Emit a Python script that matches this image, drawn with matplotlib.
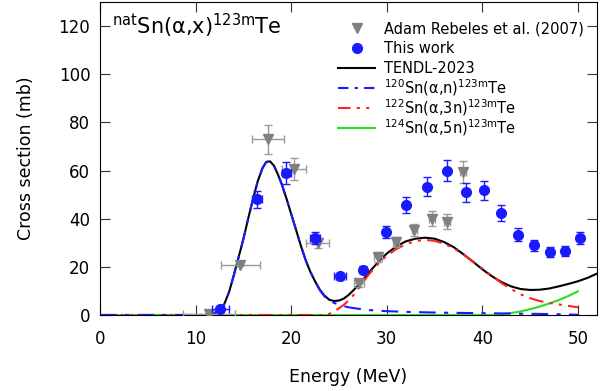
import numpy as np
import matplotlib
matplotlib.use("Agg")
import matplotlib.pyplot as plt
from matplotlib.lines import Line2D

plt.rcParams['font.family'] = ['DejaVu Sans']
plt.rcParams['mathtext.fontset'] = 'dejavusans'

# --- data ---
# this work
e_tw = [12.6, 16.4, 19.5, 22.5, 25.1, 27.5, 29.9, 32.0, 34.2, 36.3, 38.3, 40.2,
        42.0, 43.7, 45.4, 47.1, 48.7, 50.2]
s_tw = [2.6, 48.0, 59.0, 32.0, 16.0, 18.8, 34.3, 45.7, 53.3, 60.0, 51.0, 51.8,
        42.4, 33.4, 29.0, 26.2, 26.5, 31.8]
ds_tw = [1.0, 3.5, 4.4, 2.5, 1.5, 1.5, 2.5, 3.5, 4.0, 4.5, 4.0, 4.0,
         3.3, 2.7, 2.3, 2.0, 2.0, 2.5]
de_tw = [0.9, 0.5, 0.5, 0.5, 0.6, 0, 0, 0, 0, 0, 0, 0,
         0, 0, 0, 0, 0, 0]

# Adam Rebeles et al. (2007)
e_ar = [11.4, 14.7, 17.6, 20.3, 22.8, 27.1, 29.1, 31.0, 32.9, 34.7, 36.3, 38.0]
s_ar = [0.6, 20.7, 73.0, 60.5, 29.8, 13.2, 24.0, 30.3, 35.3, 40.0, 38.8, 59.3]
ds_ar = [0.3, 0.5, 6.0, 4.6, 2.0, 1.5, 2.0, 2.2, 2.5, 3.0, 3.0, 4.5]
de_ar = [2.7, 2.0, 1.7, 1.3, 1.2, 0.5, 0.4, 0.3, 0.3, 0.3, 0.3, 0.3]

# TENDL-2023 natSn total
e_tendl = [0, 11, 11.6, 12, 12.5, 13, 13.5, 14, 14.5, 15, 15.5, 16, 16.5, 17, 17.4,
           17.8, 18.2, 18.6, 19, 19.5, 20, 20.5, 21, 21.5, 22, 22.5, 23, 23.5, 24,
           24.5, 25, 25.5, 26, 26.5, 27, 27.5, 28, 28.5, 29, 29.5, 30, 31, 32, 33,
           34, 35, 36, 37, 38, 39, 40, 41, 42, 43, 44, 45, 46, 47, 48, 49, 50, 51, 52]
s_tendl = [0, 0, 0, 0.8, 2.2, 4.5, 9.5, 16.5, 24, 31.5, 40, 48, 55.5, 61, 63.6,
           63.8, 62, 58.5, 54.5, 48.5, 42, 35.5, 29, 23, 18, 14, 10.5, 8, 6.3,
           5.8, 6.0, 6.8, 8.3, 10.2, 12.3, 14.6, 17, 19.3, 21.5, 23.6, 25.5, 28.5, 30.6, 31.7,
           32.1, 31.7, 30.3, 28.2, 25.3, 22.2, 19, 16.1, 13.7, 11.9, 10.8, 10.4, 10.5, 11.0,
           11.9, 12.9, 14.0, 15.4, 17.2]

# 120Sn(a,n)
e_an = [0, 11, 11.6, 12, 12.5, 13, 13.5, 14, 14.5, 15, 15.5, 16, 16.5, 17, 17.4,
        17.8, 18.2, 18.6, 19, 19.5, 20, 20.5, 21, 21.5, 22, 22.5, 23, 23.5, 24,
        24.5, 25, 25.5, 26, 27, 28, 29, 30, 32, 34, 36, 38, 40, 42, 44, 46, 48, 50]
s_an = [0, 0, 0, 0.8, 2.2, 4.5, 9.5, 16.5, 24, 31.5, 40, 48, 55.5, 61, 63.6,
        63.8, 62, 58.5, 54.5, 48.5, 42, 35.5, 29, 23, 18, 14, 10.3, 7.7, 5.9,
        5.0, 4.3, 3.7, 3.2, 2.6, 2.1, 1.8, 1.6, 1.3, 1.1, 0.95, 0.85, 0.75, 0.65,
        0.55, 0.45, 0.3, 0.1]

# 122Sn(a,3n)
e_a3n = [0, 23.5, 24, 24.5, 25, 25.5, 26, 26.5, 27, 27.5, 28, 28.5, 29, 29.5, 30,
         31, 32, 33, 34, 35, 36, 37, 38, 39, 40, 41, 42, 43, 44, 45, 46, 47, 48, 49, 50]
s_a3n = [0, 0, 0.5, 1.5, 2.8, 4.2, 6, 8.2, 10.8, 13.5, 16.2, 18.6, 20.8, 22.8, 24.6,
         27.4, 29.4, 30.7, 31.2, 30.8, 29.6, 27.7, 25.2, 22.3, 19.3, 16.2, 13.3, 10.8,
         8.6, 7.0, 5.8, 5.0, 4.4, 3.8, 3.2]

# 124Sn(a,5n)
e_a5n = [0, 41, 42, 43, 44, 45, 46, 47, 48, 49, 50]
s_a5n = [0, 0, 0.3, 0.8, 1.5, 2.4, 3.5, 4.8, 6.2, 7.9, 9.8]

blue = '#1a1aff'
red = '#ff2020'
green = '#22e022'
gray = '#808080'
dash_an = (8, 4, 2, 4)
dash_a3n = (7, 3, 1.5, 3, 1.5, 3)

fig = plt.figure(figsize=(6.09, 3.91), dpi=100)
ax = fig.add_axes([100 / 609, 1 - 315 / 391, 497 / 609, 313 / 391])

ax.plot(e_tendl, s_tendl, color='black', lw=1.5, zorder=3)
ax.plot(e_a5n, s_a5n, color=green, lw=1.5, zorder=3)
ax.plot(e_a3n, s_a3n, color=red, lw=1.5, dashes=dash_a3n, zorder=4)
ax.plot(e_an, s_an, color=blue, lw=1.5, dashes=dash_an, zorder=4)

ax.errorbar(e_ar, s_ar, yerr=ds_ar, xerr=de_ar, fmt='v', color=gray, ms=7,
            ecolor='#999999', elinewidth=1, capsize=3, zorder=5)
ax.errorbar(e_tw, s_tw, yerr=ds_tw, xerr=de_tw, fmt='o', color=blue, ms=7,
            ecolor=blue, elinewidth=1, capsize=3, zorder=6)

ax.set_xlim(0, 52)
ax.set_ylim(0, 130)
ax.set_xticks([0, 10, 20, 30, 40, 50])
ax.set_yticks([0, 20, 40, 60, 80, 100, 120])
ax.tick_params(direction='in', length=7, width=0.8, top=True, right=True,
               labelsize=12, color='#333333')
ax.tick_params(axis='x', pad=11)
ax.tick_params(axis='y', pad=7)
ax.set_xlabel('Energy (MeV)', fontsize=12.5, labelpad=14)
ax.set_ylabel('Cross section (mb)', fontsize=12.5, labelpad=17)

ax.text(0.024, 0.897, r'$^{\mathrm{nat}}$Sn(α,x)$^{\mathrm{123m}}$Te',
        transform=ax.transAxes, fontsize=15, va='baseline', ha='left')

# legend, one row every ~20 px
def ax_x(px):
    return (px - 100) / 497

def ax_y(py):
    return 1 - (py - 2) / 313

handles = [
    dict(ls='none', marker='v', color=gray, ms=7),
    dict(ls='none', marker='o', color=blue, ms=7),
    dict(color='black', lw=1.5),
    dict(color=blue, lw=1.5, dashes=(5, 3, 1.5, 3)),
    dict(color=red, lw=1.5, dashes=(6, 3, 1.5, 3, 1.5, 3)),
    dict(color=green, lw=1.5),
]
labels = ['Adam Rebeles et al. (2007)', 'This work', 'TENDL-2023',
          r'$^{\mathrm{120}}$Sn(α,n)$^{\mathrm{123m}}$Te',
          r'$^{\mathrm{122}}$Sn(α,3n)$^{\mathrm{123m}}$Te',
          r'$^{\mathrm{124}}$Sn(α,5n)$^{\mathrm{123m}}$Te']
baselines = [33.3, 52.7, 72.7, 93.3, 113.3, 133.3]
for kw, lab, base in zip(handles, labels, baselines):
    yc = ax_y(base - 5)
    if kw.get('marker'):
        ax.add_line(Line2D([ax_x(357)], [yc], transform=ax.transAxes,
                           clip_on=False, zorder=7, **kw))
    else:
        ax.add_line(Line2D([ax_x(338), ax_x(375)], [yc, yc], transform=ax.transAxes,
                           clip_on=False, zorder=7, **kw))
    ax.text(ax_x(384), ax_y(base), lab, transform=ax.transAxes, fontsize=10.5,
            va='baseline', ha='left', zorder=7)

fig.savefig('out.png', dpi=100)
